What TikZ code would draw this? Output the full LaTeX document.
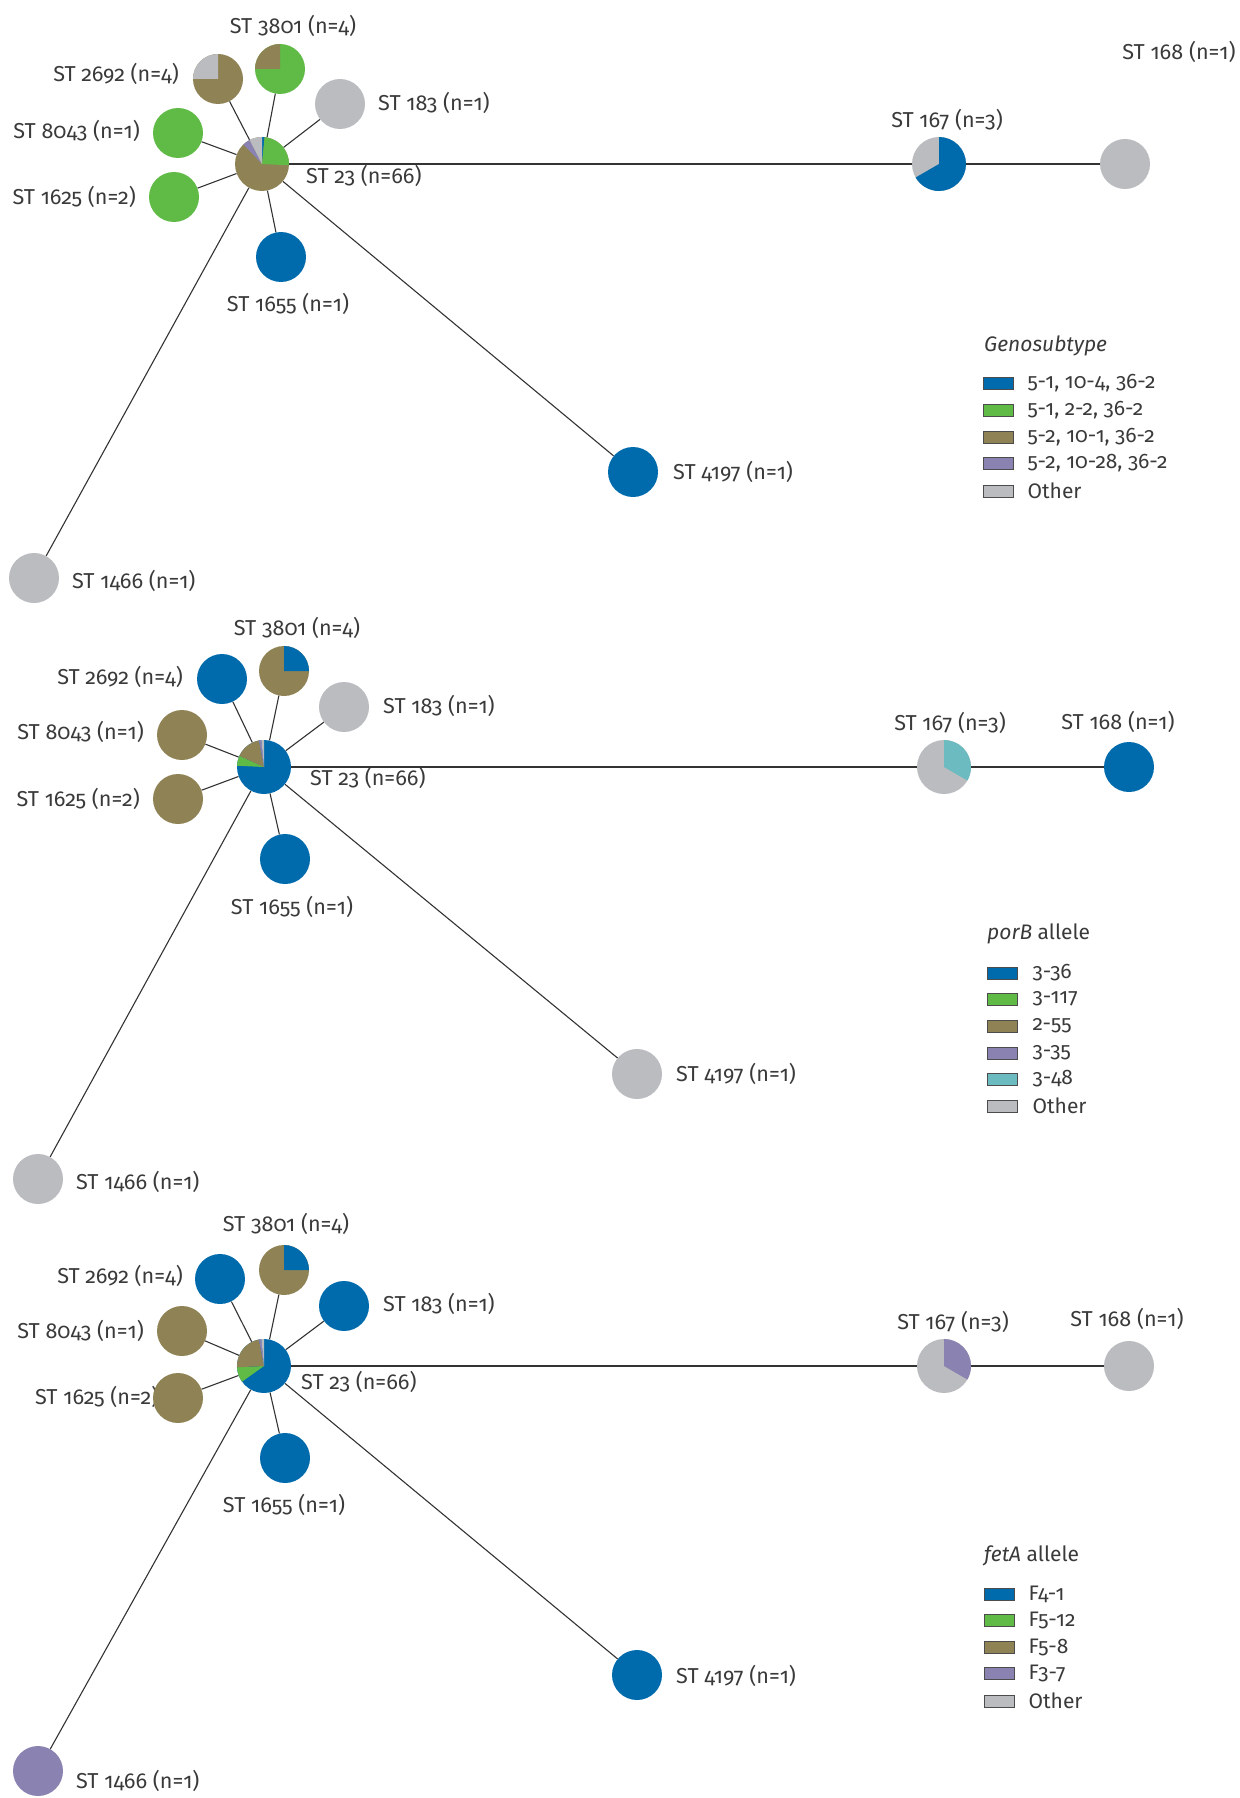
\documentclass[tikz,border=0pt]{standalone}
\usepackage{fontspec}
\setmainfont{Fira Sans}[Numbers=OldStyle]
\usepackage{tikz}
\usetikzlibrary{positioning}

\definecolor{stblue}{RGB}{0,107,172}
\definecolor{stgreen}{RGB}{96,186,70}
\definecolor{stbrown}{RGB}{143,130,85}
\definecolor{stpurple}{RGB}{138,130,176}
\definecolor{stcyan}{RGB}{107,187,192}
\definecolor{stgrey}{RGB}{187,188,192}
\definecolor{sttext}{RGB}{58,58,58}
\def\lbl{\fontsize{21.6}{26}\selectfont}
\def\keyfont{\fontsize{21}{25}\selectfont}
% pie slice: node, radius, from, to (clockwise from 12 o'clock), colour
\def\slice#1#2#3#4#5{\fill[#5] (#1.center) -- ++({90-#3}:#2) arc[start angle={90-#3}, end angle={90-#4}, radius=#2] -- cycle;}

\begin{document}
\begin{tikzpicture}[x=1pt,y=1pt]
\tikzstyle{st}=[circle, inner sep=0pt, minimum size=50pt, fill=stgrey]
\tikzstyle{hub}=[st, minimum size=54pt]
\tikzstyle{connect}=[draw=black!80, line width=1.1pt]
\tikzstyle{lab}=[text=sttext, font=\lbl, inner sep=0pt]
\tikzstyle{keytext}=[lab, font=\keyfont]
\tikzstyle{key}=[rectangle, minimum width=30pt, minimum height=12pt, draw=black!70, line width=0.8pt]
\useasboundingbox (0,0) rectangle (1239,-1798);

% Genosubtype
  \node[lab] (aT3801) at (293,-26) {ST 3801 (n=4)};
  \node[lab, anchor=east] (aT2692) at (179,-74) {ST 2692 (n=4)};
  \node[lab, anchor=west] (aT183) at (378,-103) {ST 183 (n=1)};
  \node[lab, anchor=east] (aT8043) at (140,-131) {ST 8043 (n=1)};
  \node[lab, anchor=east] (aT1625) at (136,-197) {ST 1625 (n=2)};
  \node[lab] (aT1655) at (288,-304) {ST 1655 (n=1)};
  \node[lab, anchor=west] (aT23) at (306,-176) {ST 23 (n=66)};
  \node[lab] (aT167) at (947,-120) {ST 167 (n=3)};
  \node[lab] (aT168) at (1179,-52) {ST 168 (n=1)};
  \node[lab, anchor=west] (aT4197) at (673,-472) {ST 4197 (n=1)};
  \node[lab, anchor=west] (aT1466) at (72,-581) {ST 1466 (n=1)};

  \node[hub, fill=stbrown] (a23) at (262,-164) {};
  \node[st, fill=stgreen] (a3801) at (280,-69) {};
  \node[st, fill=stbrown] (a2692) at (218,-79) {};
  \node[st] (a183) at (340,-104) {};
  \node[st, fill=stgreen] (a8043) at (178,-133) {};
  \node[st, fill=stgreen] (a1625) at (174,-197) {};
  \node[st, fill=stblue] (a1655) at (281,-257) {};
  \node[hub] (a167) at (939,-164) {};
  \node[st] (a168) at (1125,-164) {};
  \node[st, fill=stblue] (a4197) at (633,-472) {};
  \node[st] (a1466) at (34,-578) {};

  \path (a23) edge [connect] (a3801) edge [connect] (a2692) edge [connect] (a183);
  \path (a23) edge [connect] (a8043) edge [connect] (a1625) edge [connect] (a1655);
  \path (a23) edge [connect] (a167) edge [connect] (a4197) edge [connect] (a1466);
  \path (a167) edge [connect] (a168);

  \slice{a23}{27}{0}{5.5}{stblue}
  \slice{a23}{27}{5.5}{92.7}{stgreen}
  \slice{a23}{27}{316.4}{332.7}{stpurple}
  \slice{a23}{27}{332.7}{360}{stgrey}
  \slice{a3801}{25}{270}{360}{stbrown}
  \slice{a2692}{25}{270}{360}{stgrey}
  \slice{a167}{27}{0}{240}{stblue}

  \node[keytext, anchor=west, font=\keyfont\itshape] (aKey) at (984,-346) {Genosubtype};
  \node[key, fill=stblue] (aK1) at (998,-383) {};
  \node[keytext, right=14pt of aK1] (aK1t) {5-1, 10-4, 36-2};
  \node[key, fill=stgreen] (aK2) at (998,-410) {};
  \node[keytext, right=14pt of aK2] (aK2t) {5-1, 2-2, 36-2};
  \node[key, fill=stbrown] (aK3) at (998,-437) {};
  \node[keytext, right=14pt of aK3] (aK3t) {5-2, 10-1, 36-2};
  \node[key, fill=stpurple] (aK4) at (998,-463) {};
  \node[keytext, right=14pt of aK4] (aK4t) {5-2, 10-28, 36-2};
  \node[key, fill=stgrey] (aK5) at (998,-491) {};
  \node[keytext, right=14pt of aK5] (aK5t) {Other};

% porB
  \node[lab] (bT3801) at (297,-628) {ST 3801 (n=4)};
  \node[lab, anchor=east] (bT2692) at (183,-677) {ST 2692 (n=4)};
  \node[lab, anchor=west] (bT183) at (383,-706) {ST 183 (n=1)};
  \node[lab, anchor=east] (bT8043) at (144,-732) {ST 8043 (n=1)};
  \node[lab, anchor=east] (bT1625) at (140,-799) {ST 1625 (n=2)};
  \node[lab] (bT1655) at (292,-907) {ST 1655 (n=1)};
  \node[lab, anchor=west] (bT23) at (310,-778) {ST 23 (n=66)};
  \node[lab] (bT167) at (950,-723) {ST 167 (n=3)};
  \node[lab] (bT168) at (1118,-722) {ST 168 (n=1)};
  \node[lab, anchor=west] (bT4197) at (676,-1074) {ST 4197 (n=1)};
  \node[lab, anchor=west] (bT1466) at (76,-1182) {ST 1466 (n=1)};

  \node[hub, fill=stblue] (b23) at (264,-767) {};
  \node[st, fill=stbrown] (b3801) at (284,-671) {};
  \node[st, fill=stblue] (b2692) at (222,-679) {};
  \node[st] (b183) at (344,-707) {};
  \node[st, fill=stbrown] (b8043) at (182,-735) {};
  \node[st, fill=stbrown] (b1625) at (178,-799) {};
  \node[st, fill=stblue] (b1655) at (285,-859) {};
  \node[hub] (b167) at (944,-767) {};
  \node[st, fill=stblue] (b168) at (1129,-767) {};
  \node[st] (b4197) at (637,-1074) {};
  \node[st] (b1466) at (38,-1179) {};

  \path (b23) edge [connect] (b3801) edge [connect] (b2692) edge [connect] (b183);
  \path (b23) edge [connect] (b8043) edge [connect] (b1625) edge [connect] (b1655);
  \path (b23) edge [connect] (b167) edge [connect] (b4197) edge [connect] (b1466);
  \path (b167) edge [connect] (b168);

  \slice{b23}{27}{272.7}{294.5}{stgreen}
  \slice{b23}{27}{294.5}{349.1}{stbrown}
  \slice{b23}{27}{349.1}{354.5}{stpurple}
  \slice{b23}{27}{354.5}{360}{stgrey}
  \slice{b3801}{25}{0}{90}{stblue}
  \slice{b167}{27}{0}{120}{stcyan}

  \node[keytext, anchor=west] (bKey) at (987,-934) {\textit{porB} allele};
  \node[key, fill=stblue] (bK1) at (1002,-973) {};
  \node[keytext, right=15pt of bK1] (bK1t) {3-36};
  \node[key, fill=stgreen] (bK2) at (1002,-999) {};
  \node[keytext, right=15pt of bK2] (bK2t) {3-117};
  \node[key, fill=stbrown] (bK3) at (1002,-1026) {};
  \node[keytext, right=15pt of bK3] (bK3t) {2-55};
  \node[key, fill=stpurple] (bK4) at (1002,-1053) {};
  \node[keytext, right=15pt of bK4] (bK4t) {3-35};
  \node[key, fill=stcyan] (bK5) at (1002,-1079) {};
  \node[keytext, right=15pt of bK5] (bK5t) {3-48};
  \node[key, fill=stgrey] (bK6) at (1002,-1106) {};
  \node[keytext, right=15pt of bK6] (bK6t) {Other};

% fetA
  \node[lab] (cT3801) at (286,-1224) {ST 3801 (n=4)};
  \node[lab, anchor=east] (cT2692) at (183,-1276) {ST 2692 (n=4)};
  \node[lab, anchor=west] (cT183) at (383,-1304) {ST 183 (n=1)};
  \node[lab, anchor=east] (cT8043) at (144,-1331) {ST 8043 (n=1)};
  \node[lab, anchor=west] (cT1625) at (35,-1397) {ST 1625 (n=2)};
  \node[lab] (cT1655) at (284,-1505) {ST 1655 (n=1)};
  \node[lab, anchor=west] (cT23) at (301,-1382) {ST 23 (n=66)};
  \node[lab] (cT167) at (953,-1322) {ST 167 (n=3)};
  \node[lab] (cT168) at (1127,-1319) {ST 168 (n=1)};
  \node[lab, anchor=west] (cT4197) at (676,-1676) {ST 4197 (n=1)};
  \node[lab, anchor=west] (cT1466) at (76,-1781) {ST 1466 (n=1)};

  \node[hub, fill=stblue] (c23) at (264,-1366) {};
  \node[st, fill=stbrown] (c3801) at (284,-1270) {};
  \node[st, fill=stblue] (c2692) at (220,-1279) {};
  \node[st, fill=stblue] (c183) at (344,-1306) {};
  \node[st, fill=stbrown] (c8043) at (182,-1331) {};
  \node[st, fill=stbrown] (c1625) at (178,-1398) {};
  \node[st, fill=stblue] (c1655) at (285,-1458) {};
  \node[hub] (c167) at (944,-1366) {};
  \node[st] (c168) at (1129,-1366) {};
  \node[st, fill=stblue] (c4197) at (637,-1675) {};
  \node[st, fill=stpurple] (c1466) at (38,-1771) {};

  \path (c23) edge [connect] (c3801) edge [connect] (c2692) edge [connect] (c183);
  \path (c23) edge [connect] (c8043) edge [connect] (c1625) edge [connect] (c1655);
  \path (c23) edge [connect] (c167) edge [connect] (c4197) edge [connect] (c1466);
  \path (c167) edge [connect] (c168);

  \slice{c23}{27}{234.5}{267.3}{stgreen}
  \slice{c23}{27}{267.3}{349.1}{stbrown}
  \slice{c23}{27}{349.1}{354.5}{stpurple}
  \slice{c23}{27}{354.5}{360}{stgrey}
  \slice{c3801}{25}{0}{90}{stblue}
  \slice{c167}{27}{0}{120}{stpurple}

  \node[keytext, anchor=west] (cKey) at (984,-1556) {\textit{fetA} allele};
  \node[key, fill=stblue] (cK1) at (999,-1594) {};
  \node[keytext, right=14pt of cK1] (cK1t) {F4-1};
  \node[key, fill=stgreen] (cK2) at (999,-1620) {};
  \node[keytext, right=14pt of cK2] (cK2t) {F5-12};
  \node[key, fill=stbrown] (cK3) at (999,-1647) {};
  \node[keytext, right=14pt of cK3] (cK3t) {F5-8};
  \node[key, fill=stpurple] (cK4) at (999,-1673) {};
  \node[keytext, right=14pt of cK4] (cK4t) {F3-7};
  \node[key, fill=stgrey] (cK5) at (999,-1701) {};
  \node[keytext, right=14pt of cK5] (cK5t) {Other};
\end{tikzpicture}
\end{document}
